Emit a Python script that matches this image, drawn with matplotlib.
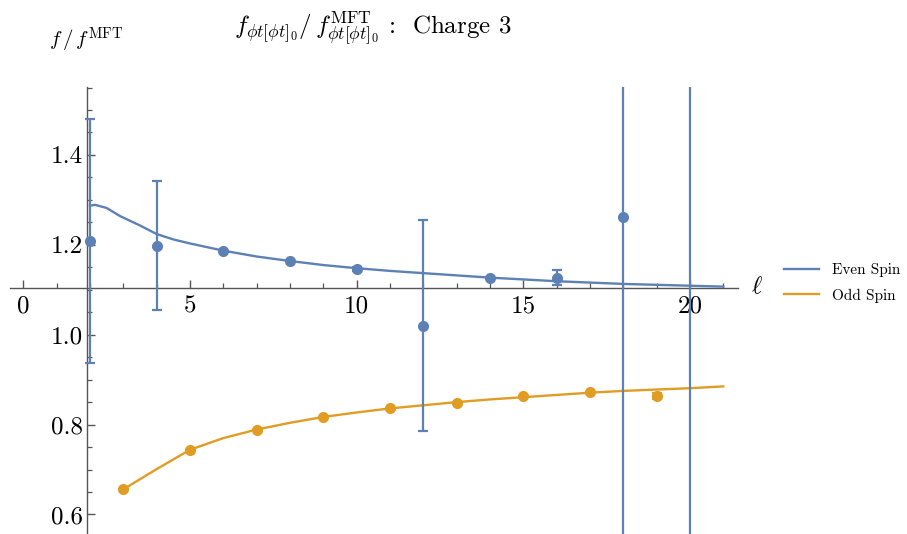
"""Charge 3 OPE coefficient ratio, even vs odd spin."""

import matplotlib
matplotlib.use("Agg")
import matplotlib.pyplot as plt
from matplotlib.lines import Line2D
from matplotlib.ticker import MultipleLocator

plt.rcParams["font.family"] = "cmr10"
plt.rcParams["mathtext.fontset"] = "cm"
plt.rcParams["axes.formatter.use_mathtext"] = True

BLUE = "#5E81B5"
ORANGE = "#E19C24"
AXIS = "#555555"

# even spin data points with error bars
even_l = [2, 4, 6, 8, 10, 12, 14, 16, 18, 20]
even_val = [1.209, 1.198, 1.187, 1.164, 1.146, 1.020, 1.127, 1.127, 1.261, 1.70]
even_err = [0.272, 0.143, 0.0, 0.0, 0.005, 0.235, 0.0, 0.017, 1.5, 2.0]

# odd spin data points with error bars
odd_l = [3, 5, 7, 9, 11, 13, 15, 17, 19]
odd_val = [0.656, 0.744, 0.789, 0.817, 0.837, 0.848, 0.863, 0.873, 0.864]
odd_err = [0.0, 0.0, 0.0, 0.0, 0.0, 0.0, 0.0, 0.0, 0.006]

# fitted curves
even_curve_l = [2, 2.15, 2.5, 2.9, 3.5, 4, 4.5, 5, 6, 7, 8, 9, 10, 11, 12,
                13, 14, 15, 16, 17, 18, 19, 20, 21]
even_curve = [1.287, 1.289, 1.282, 1.264, 1.243, 1.224, 1.212, 1.203, 1.187,
              1.174, 1.164, 1.155, 1.148, 1.142, 1.137, 1.132, 1.127, 1.123,
              1.119, 1.116, 1.113, 1.111, 1.109, 1.107]
odd_curve_l = [3, 4, 5, 6, 7, 8, 9, 10, 11, 12, 13, 14, 15, 16, 17, 18, 19,
               20, 21]
odd_curve = [0.656, 0.701, 0.744, 0.770, 0.789, 0.804, 0.817, 0.827, 0.836,
             0.843, 0.850, 0.856, 0.861, 0.866, 0.871, 0.875, 0.878, 0.881,
             0.885]

fig = plt.figure(figsize=(9.07, 5.34), dpi=100)
ax = fig.add_axes([10 / 907, 0.0, 728.3 / 907, 0.8378])
ax.set_xlim(-0.4, 21.45)
ax.set_ylim(0.5566, 1.552)

ax.plot(even_curve_l, even_curve, color=BLUE, lw=1.7, zorder=3)
ax.plot(odd_curve_l, odd_curve, color=ORANGE, lw=1.7, zorder=3)

ax.errorbar(even_l, even_val, yerr=even_err, fmt="o", color=BLUE, ms=7,
            elinewidth=1.6, capsize=3.5, capthick=1.6, zorder=4)
ax.errorbar(odd_l, odd_val, yerr=odd_err, fmt="o", color=ORANGE, ms=7,
            elinewidth=1.6, capsize=3.5, capthick=1.6, zorder=4)

# Mathematica-style crossing axes
for side in ["top", "right"]:
    ax.spines[side].set_visible(False)
ax.spines["left"].set_position(("data", 1.92))
ax.spines["bottom"].set_position(("data", 1.105))
for side in ["left", "bottom"]:
    ax.spines[side].set_color(AXIS)
    ax.spines[side].set_linewidth(1.0)

ax.xaxis.set_minor_locator(MultipleLocator(1))
ax.yaxis.set_minor_locator(MultipleLocator(0.05))
ax.set_xticks([0, 5, 10, 15, 20])
ax.set_xticklabels(["0", "5", "10", "15", "20"])
ax.set_yticks([0.6, 0.8, 1.0, 1.2, 1.4])
ax.set_yticklabels(["0.6", "0.8", "1.0", "1.2", "1.4"])
ax.tick_params(which="both", direction="in", color=AXIS, labelsize=18)
ax.tick_params(which="major", length=6, width=1.0)
ax.tick_params(which="minor", length=3.5, width=0.9)
ax.tick_params(axis="x", pad=6)
ax.tick_params(axis="y", pad=3)

fig.text(757 / 907, 1 - 287 / 534, r"$\ell$", fontsize=18,
         ha="center", va="center")
fig.text(86 / 907, 1 - 40 / 534, r"$f\,/\,f^{\mathrm{MFT}}$", fontsize=15,
         ha="center", va="center")
fig.text(373 / 907, 1 - 29 / 534,
         r"$f_{\phi t[\phi t]_0}/\,f^{\mathrm{MFT}}_{\phi t[\phi t]_0}$ :  Charge 3",
         fontsize=18, ha="center", va="center")

handles = [Line2D([], [], color=BLUE, lw=1.7),
           Line2D([], [], color=ORANGE, lw=1.7)]
fig.legend(handles, ["Even Spin", "Odd Spin"], loc="center left",
           bbox_to_anchor=(770 / 907, 1 - 283 / 534), frameon=False,
           fontsize=11, handlelength=2.3, handletextpad=0.85,
           labelspacing=0.75)

fig.savefig("out.png", dpi=100)
